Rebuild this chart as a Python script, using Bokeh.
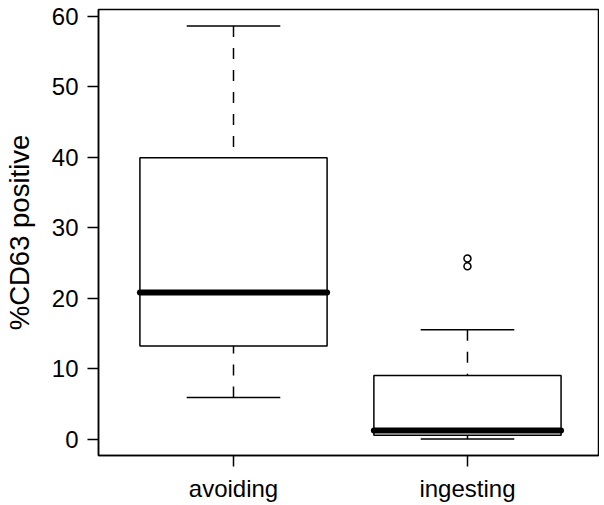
import numpy as np
from bokeh.plotting import figure
from bokeh.models import Range1d, FixedTicker
from bokeh.embed import file_html
from bokeh.resources import INLINE

# ---- data ----
categories = ["avoiding", "ingesting"]
whisker_low = [5.9, 0.0]
q1 = [13.2, 0.55]
median = [20.8, 1.2]
q3 = [39.9, 9.0]
whisker_high = [58.6, 15.5]
outlier_group = ["ingesting", "ingesting"]
outlier_values = [25.6, 24.5]
y_ticks = [0, 10, 20, 30, 40, 50, 60]

pos = {c: i + 1 for i, c in enumerate(categories)}
x = np.array([pos[c] for c in categories], dtype=float)
ox = [pos[c] for c in outlier_group]

FONT = "Liberation Sans"

p = figure(width=599, height=505, output_backend="svg", toolbar_location=None,
           x_range=Range1d(0.423, 2.56), y_range=Range1d(-2.34, 60.95),
           title=None, min_border_left=93, min_border_right=1,
           min_border_top=9, min_border_bottom=50)
p.grid.visible = False
p.background_fill_color = "white"
p.border_fill_color = "white"
p.outline_line_color = "black"
p.outline_line_width = 1.5
p.outline_line_alpha = 1.0

half_box = 0.4
half_cap = 0.2
dash = "11 11"

# whiskers (from whisker end towards the box)
p.segment(x0=x, y0=whisker_high, x1=x, y1=q3, line_color="black", line_width=1.5, line_dash=dash)
p.segment(x0=x, y0=whisker_low, x1=x, y1=q1, line_color="black", line_width=1.5, line_dash=dash)
# caps
p.segment(x0=x - half_cap, y0=whisker_high, x1=x + half_cap, y1=whisker_high, line_color="black", line_width=1.5)
p.segment(x0=x - half_cap, y0=whisker_low, x1=x + half_cap, y1=whisker_low, line_color="black", line_width=1.5)
# boxes
p.vbar(x=x, width=2 * half_box, bottom=q1, top=q3, fill_color="white",
       line_color="black", line_width=1.5)
# medians
p.segment(x0=x - half_box, y0=median, x1=x + half_box, y1=median,
          line_color="black", line_width=6, line_cap="round")
# outliers
p.scatter(x=ox, y=outlier_values, marker="circle", size=7, fill_color=None,
          line_color="black", line_width=1.5)

# y axis
ya = p.yaxis[0]
ya.ticker = FixedTicker(ticks=y_ticks)
ya.minor_tick_line_color = None
ya.major_tick_in = 0
ya.major_tick_out = 11
ya.major_tick_line_width = 1.5
ya.major_tick_line_color = "black"
ya.axis_line_color = "black"
ya.axis_line_width = 1.5
ya.major_label_text_font = FONT
ya.major_label_text_font_size = "24px"
ya.major_label_text_color = "black"
ya.major_label_standoff = 9
ya.axis_label = "%CD63 positive"
ya.axis_label_text_font = FONT
ya.axis_label_text_font_size = "27.5px"
ya.axis_label_text_font_style = "normal"
ya.axis_label_text_color = "black"
ya.axis_label_standoff = 14

# x axis
xa = p.xaxis[0]
xa.ticker = FixedTicker(ticks=list(x))
xa.major_label_overrides = {int(pos[c]): c for c in categories}
xa.minor_tick_line_color = None
xa.major_tick_in = 0
xa.major_tick_out = 11
xa.major_tick_line_width = 1.5
xa.major_tick_line_color = "black"
xa.axis_line_color = "black"
xa.axis_line_width = 1.5
xa.major_label_text_font = FONT
xa.major_label_text_font_size = "24px"
xa.major_label_text_color = "black"
xa.major_label_standoff = 8

open("out.html", "w").write(file_html(p, INLINE))
